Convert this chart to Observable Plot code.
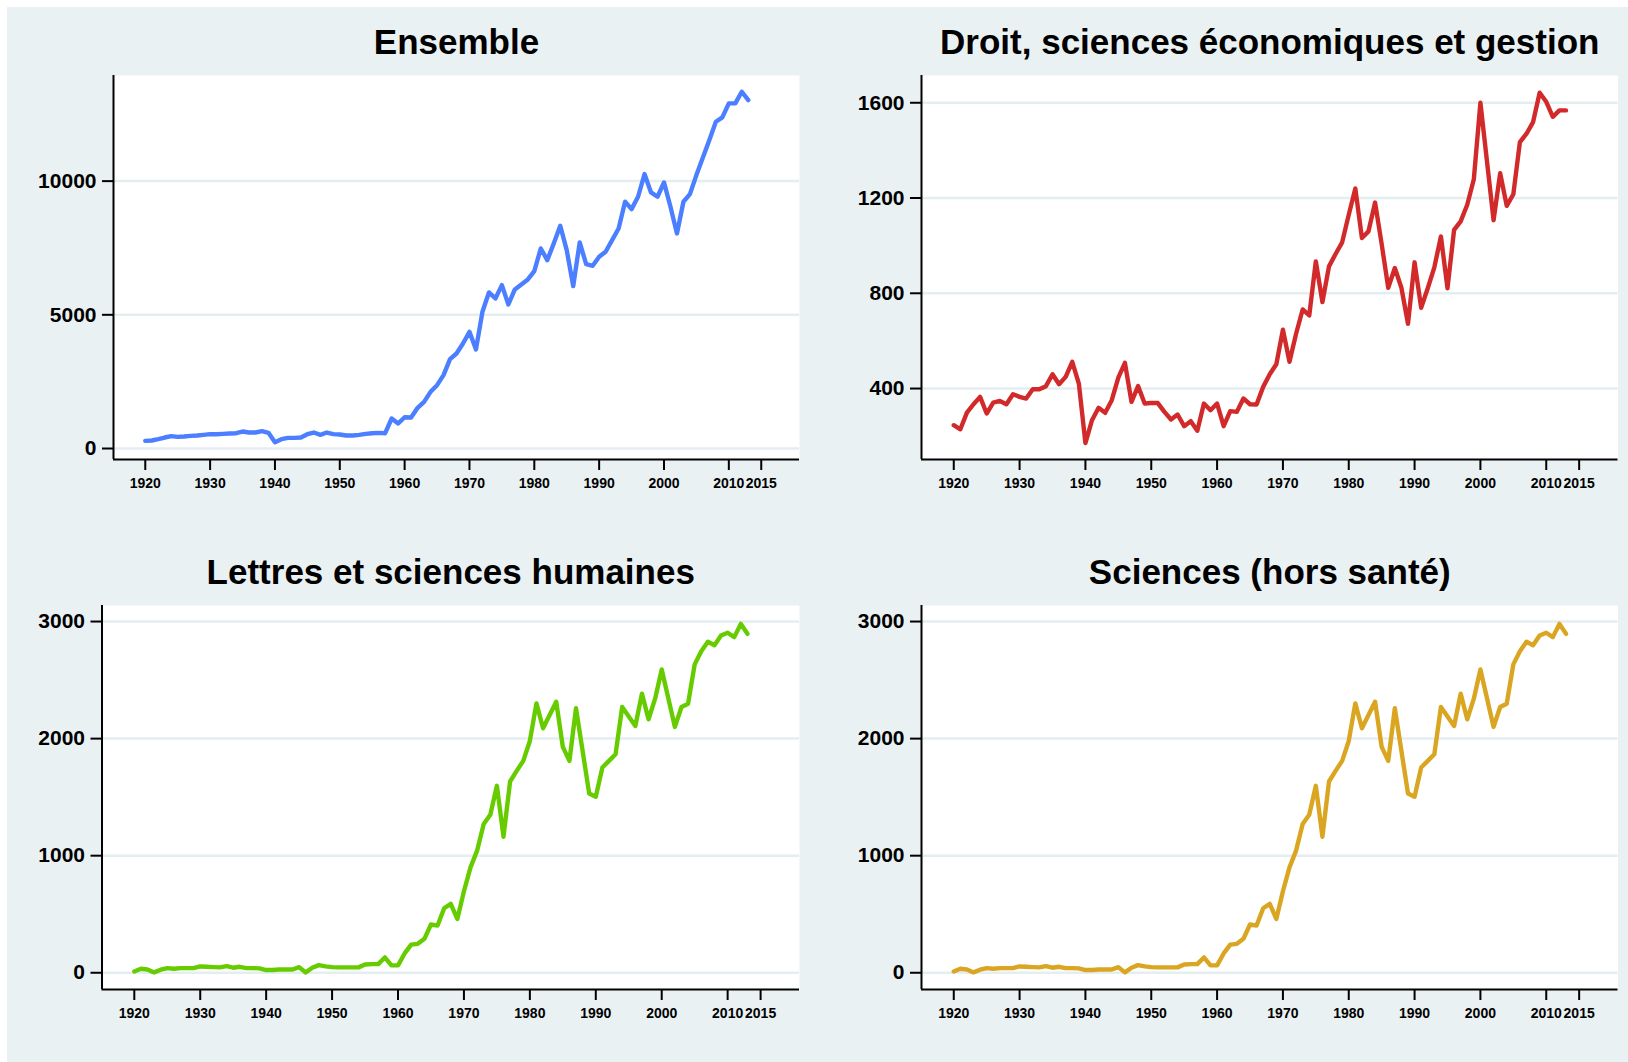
<!DOCTYPE html>
<html>
<head>
<meta charset="utf-8">
<script src="https://cdn.jsdelivr.net/npm/d3@7"></script>
<script src="https://cdn.jsdelivr.net/npm/@observablehq/plot@0.6"></script>
<style>
  html, body { margin: 0; padding: 0; background: #ffffff; }
  #page { position: relative; width: 1628px; height: 1062px; overflow: hidden; background: #ffffff; }
  #bg { position: absolute; left: 7px; top: 7px; right: 0; bottom: 0; background: #eaf1f3; }
  .panel { position: absolute; }
</style>
</head>
<body>
<div id="page">
  <div id="bg"></div>
  <div class="panel" id="p1" style="left:0px;top:0px;"></div>
  <div class="panel" id="p2" style="left:814px;top:0px;"></div>
  <div class="panel" id="p3" style="left:0px;top:520px;"></div>
  <div class="panel" id="p4" style="left:814px;top:520px;"></div>
</div>
<script>
// ---- Data, one value per year from startYear ----
const startYear = 1920;

const titles = [
  "Ensemble",
  "Droit, sciences économiques et gestion",
  "Lettres et sciences humaines",
  "Sciences (hors santé)"
];

const ensemble = [
  287, 299, 349, 411, 461, 436, 449, 473, 486, 511,
  536, 536, 548, 561, 573, 635, 598, 598, 648, 586,
  237, 349, 399, 399, 411, 536, 598, 511, 598, 536,
  523, 486, 486, 511, 548, 573, 586, 573, 1122, 935,
  1170, 1160, 1521, 1745, 2120, 2369, 2743, 3342, 3554, 3928,
  4364, 3704, 5112, 5836, 5611, 6110, 5387, 5948, 6135, 6322,
  6634, 7482, 7045, 7669, 8330, 7420, 6073, 7706, 6896, 6834,
  7170, 7357, 7794, 8230, 9228, 8953, 9415, 10263, 9577, 9415,
  9951, 9041, 8043, 9228, 9515, 10225, 10886, 11535, 12221, 12383,
  12907, 12907, 13343, 13031
];

const droit = [
  246, 229, 299, 334, 365, 295, 341, 348, 334, 376,
  365, 358, 397, 397, 410, 460, 418, 449, 512, 421,
  171, 267, 319, 298, 351, 446, 508, 344, 410, 337,
  339, 339, 302, 270, 291, 242, 263, 223, 337, 309,
  337, 242, 305, 302, 358, 334, 333, 407, 460, 502,
  647, 512, 630, 732, 707, 934, 763, 913, 965, 1014,
  1130, 1240, 1032, 1060, 1181, 1007, 823, 906, 823, 672,
  930, 739, 821, 909, 1039, 821, 1066, 1102, 1172, 1279,
  1600, 1353, 1107, 1304, 1167, 1216, 1435, 1470, 1519, 1642,
  1604, 1541, 1568, 1568
];

const lettres = [
  11, 34, 28, 3, 26, 40, 34, 40, 40, 40,
  54, 51, 48, 46, 57, 43, 51, 40, 40, 37,
  23, 23, 28, 28, 28, 48, 3, 43, 65, 54,
  48, 46, 46, 46, 46, 71, 74, 74, 131, 63,
  63, 165, 240, 247, 290, 412, 403, 551, 588, 460,
  696, 900, 1043, 1270, 1349, 1597, 1162, 1634, 1724, 1810,
  1980, 2301, 2088, 2202, 2315, 1929, 1810, 2259, 1895, 1531,
  1503, 1753, 1810, 1867, 2270, 2188, 2108, 2384, 2165, 2341,
  2591, 2344, 2100, 2270, 2298, 2634, 2747, 2827, 2798, 2881,
  2904, 2867, 2980, 2895
];

const sciences = [
  11, 34, 28, 3, 26, 40, 34, 40, 40, 40,
  54, 51, 48, 46, 57, 43, 51, 40, 40, 37,
  23, 23, 28, 28, 28, 48, 3, 43, 65, 54,
  48, 46, 46, 46, 46, 71, 74, 74, 131, 63,
  63, 165, 240, 247, 290, 412, 403, 551, 588, 460,
  696, 900, 1043, 1270, 1349, 1597, 1162, 1634, 1724, 1810,
  1980, 2301, 2088, 2202, 2315, 1929, 1810, 2259, 1895, 1531,
  1503, 1753, 1810, 1867, 2270, 2188, 2108, 2384, 2165, 2341,
  2591, 2344, 2100, 2270, 2298, 2634, 2747, 2827, 2798, 2881,
  2904, 2867, 2980, 2895
];

const xTicks = [1920, 1930, 1940, 1950, 1960, 1970, 1980, 1990, 2000, 2010, 2015];
const xDomain = [1915.1, 2020.9];

const yTicksEnsemble = [0, 5000, 10000];
const yTicksDroit = [400, 800, 1200, 1600];
const yTicksLettres = [0, 1000, 2000, 3000];
const yTicksSciences = [0, 1000, 2000, 3000];

const yDomainEnsemble = [-411, 13950];
const yDomainDroit = [102, 1714.5];
const yDomainLettres = [-143, 3137];
const yDomainSciences = [-143, 3137];

const colors = ["#4b7fff", "#d22a2a", "#66cc00", "#daa520"];
const gridColor = "#e4edf0";

function panel(opts) {
  const data = opts.values.map((v, i) => ({year: startYear + i, value: v}));
  return Plot.plot({
    width: opts.width,
    height: opts.height,
    marginLeft: opts.marginLeft,
    marginRight: opts.marginRight,
    marginTop: opts.marginTop,
    marginBottom: opts.marginBottom,
    style: {background: "transparent", fontFamily: "'Liberation Sans', Arial, sans-serif", overflow: "visible", color: "#000"},
    x: {domain: xDomain, label: null},
    y: {domain: opts.yDomain, label: null},
    marks: [
      Plot.frame({fill: "white", stroke: null}),
      Plot.gridY(opts.yTicks, {stroke: gridColor, strokeWidth: 2.5, strokeOpacity: 1}),
      Plot.line(data, {x: "year", y: "value", stroke: opts.color, strokeWidth: 4.4}),
      Plot.ruleX([xDomain[0]], {stroke: "#000", strokeWidth: 2}),
      Plot.ruleY([opts.yDomain[0]], {stroke: "#000", strokeWidth: 2}),
      Plot.axisX(xTicks, {tickFormat: "d", tickSize: 11, tickPadding: 8, strokeWidth: 2,
        fontSize: 14, fontWeight: "bold", label: null}),
      Plot.axisY(opts.yTicks, {tickFormat: "d", tickSize: 11, tickPadding: 6, strokeWidth: 2,
        fontSize: 21, fontWeight: "bold", label: null}),
      Plot.text([opts.title], {frameAnchor: "top", lineAnchor: "bottom", dy: -22,
        fontSize: 35, fontWeight: "bold", fill: "#000"})
    ]
  });
}

document.getElementById("p1").appendChild(panel({
  title: titles[0], values: ensemble, color: colors[0],
  yDomain: yDomainEnsemble, yTicks: yTicksEnsemble,
  width: 814, height: 520, marginLeft: 113, marginRight: 15, marginTop: 75, marginBottom: 61
}));
document.getElementById("p2").appendChild(panel({
  title: titles[1], values: droit, color: colors[1],
  yDomain: yDomainDroit, yTicks: yTicksDroit,
  width: 814, height: 520, marginLeft: 107, marginRight: 10.5, marginTop: 75, marginBottom: 61
}));
document.getElementById("p3").appendChild(panel({
  title: titles[2], values: lettres, color: colors[2],
  yDomain: yDomainLettres, yTicks: yTicksLettres,
  width: 814, height: 542, marginLeft: 101.5, marginRight: 15, marginTop: 85, marginBottom: 73
}));
document.getElementById("p4").appendChild(panel({
  title: titles[3], values: sciences, color: colors[3],
  yDomain: yDomainSciences, yTicks: yTicksSciences,
  width: 814, height: 542, marginLeft: 107, marginRight: 10.5, marginTop: 85, marginBottom: 73
}));
</script>
</body>
</html>
